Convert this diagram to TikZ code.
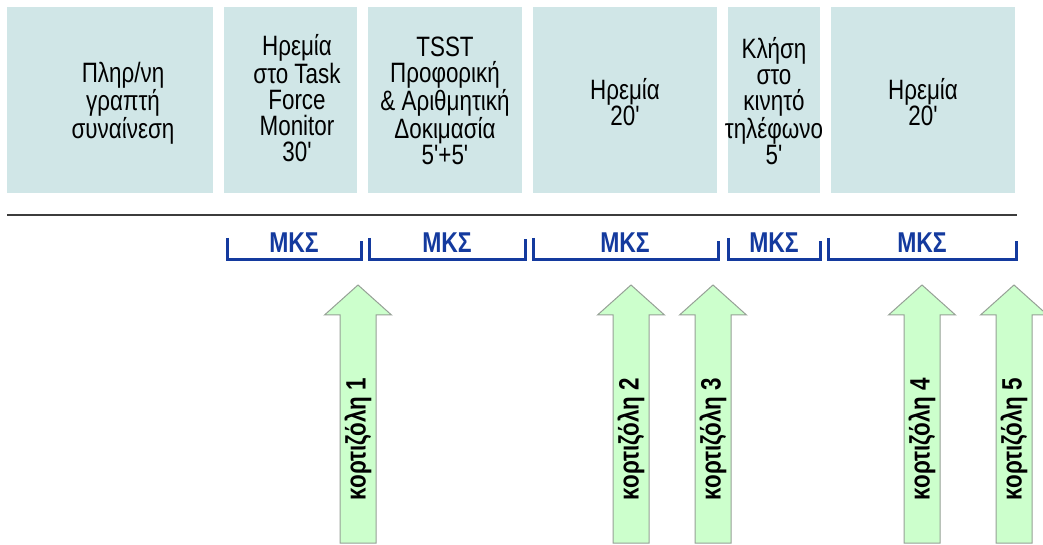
\documentclass[tikz,border=0pt]{standalone}
\usepackage{fontspec}
\setmainfont{Liberation Sans}[FakeStretch=0.8, Ligatures=TeXOff]
\tikzset{every picture/.style={line width=0.75pt}}

\definecolor{stagefill}{RGB}{208,230,231}
\definecolor{mksblue}{RGB}{20,58,158}
\definecolor{cortgreen}{RGB}{204,255,204}
\definecolor{cortgray}{RGB}{150,160,150}
\definecolor{axisgray}{RGB}{60,60,60}

\tikzset{
  stage/.style={fill=stagefill, draw=none},
  stagetext/.style={inner sep=0.75pt, align=center, font=\fontsize{21}{19.5}\selectfont},
  mks/.style={draw=mksblue, line width=2.25pt},
  mkstext/.style={inner sep=0.75pt, text=mksblue, font=\fontsize{21.5}{24}\selectfont\bfseries},
  cortarrow/.style={fill=cortgreen, draw=cortgray, line width=0.75pt},
  corttext/.style={inner sep=0.75pt, rotate=90, font=\fontsize{21}{24}\selectfont\bfseries}
}

\begin{document}
\begin{tikzpicture}[x=0.75pt,y=0.75pt,yscale=-1,xscale=1]
\useasboundingbox (0,0) rectangle (1043,545);

%Shape: Rectangle [stages]
\fill [stage] (7,7) rectangle (213,193);
\fill [stage] (224,7) rectangle (357,193);
\fill [stage] (368,7) rectangle (522,193);
\fill [stage] (533,7) rectangle (717,193);
\fill [stage] (728,7) rectangle (820,193);
\fill [stage] (831,7) rectangle (1015,193);

% Text Node
\node [stagetext] (consent) at (123,103) {Πληρ/νη\\γραπτή\\συναίνεση};
% Text Node
\node [stagetext] (rest1) at (297,98) {Ηρεμία\\στο Task\\Force\\Monitor\\30'};
% Text Node
\node [stagetext] (tsst) at (445,101) {TSST\\Προφορική\\\& Αριθμητική\\Δοκιμασία\\5'+5'};
% Text Node
\node [stagetext] (rest2) at (625,102) {Ηρεμία\\20'};
% Text Node
\node [stagetext] (call) at (774,101) {Κλήση\\στο\\κινητό\\τηλέφωνο\\5'};
% Text Node
\node [stagetext] (rest3) at (923,102) {Ηρεμία\\20'};

%Straight Lines [time axis]
\draw [axisgray, line width=1.5pt] (7,215) -- (1017,215);

%Brackets [MKS]
\draw [mks] (227,238) |- (361,260) -- (361,241);
\draw [mks] (369,238) |- (525,260) -- (525,239);
\draw [mks] (533,238) |- (718,260) -- (718,241);
\draw [mks] (728,238) |- (820,260) -- (820,241);
\draw [mks] (828,238) |- (1016,260) -- (1016,241);

% Text Node
\node [mkstext] (mks1) at (294,243) {ΜΚΣ};
\node [mkstext] (mks2) at (447,243) {ΜΚΣ};
\node [mkstext] (mks3) at (625,243) {ΜΚΣ};
\node [mkstext] (mks4) at (774,243) {ΜΚΣ};
\node [mkstext] (mks5) at (922,243) {ΜΚΣ};

%Shape: Up Arrow [cortisol samples]
\draw [cortarrow] (340,543) -- (340,315) -- (324.5,315) -- (358,285) -- (391.5,315) -- (376,315) -- (376,543) -- cycle;
\draw [cortarrow] (613,543) -- (613,315) -- (597.5,315) -- (631,285) -- (664.5,315) -- (649,315) -- (649,543) -- cycle;
\draw [cortarrow] (695,543) -- (695,315) -- (679.5,315) -- (713,285) -- (746.5,315) -- (731,315) -- (731,543) -- cycle;
\draw [cortarrow] (904,543) -- (904,315) -- (888.5,315) -- (922,285) -- (955.5,315) -- (940,315) -- (940,543) -- cycle;
\draw [cortarrow] (996,543) -- (996,315) -- (980.5,315) -- (1014,285) -- (1047.5,315) -- (1032,315) -- (1032,543) -- cycle;

% Text Node
\node [corttext] (cort1) at (358,439) {κορτιζόλη 1};
\node [corttext] (cort2) at (631,439) {κορτιζόλη 2};
\node [corttext] (cort3) at (713,439) {κορτιζόλη 3};
\node [corttext] (cort4) at (922,439) {κορτιζόλη 4};
\node [corttext] (cort5) at (1014,439) {κορτιζόλη 5};

\end{tikzpicture}
\end{document}
